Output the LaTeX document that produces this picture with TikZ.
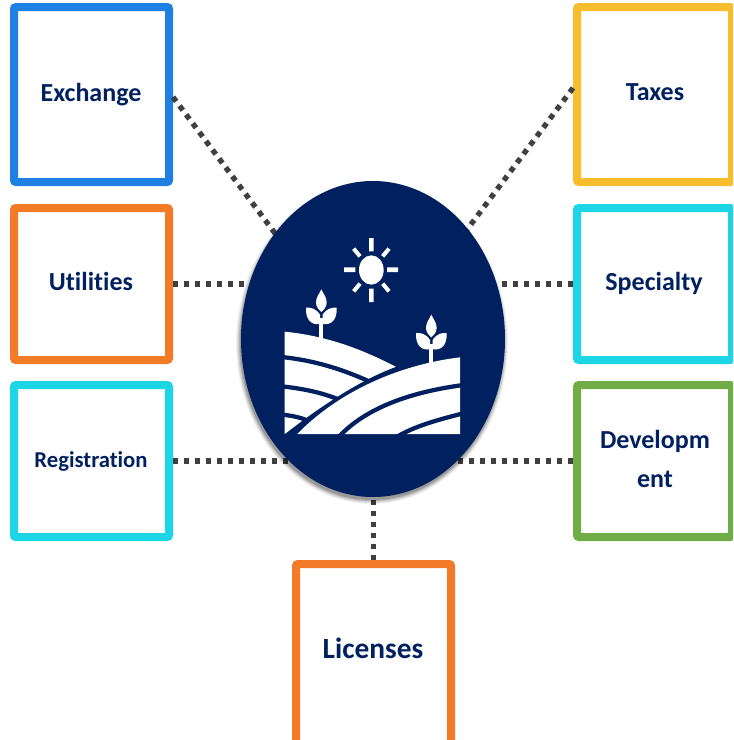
\documentclass[tikz,border=0pt]{standalone}
\usepackage{fontspec}
\usetikzlibrary{shapes.geometric}
\setmainfont{Carlito}[Ligatures=CommonOff]
\definecolor{navy}{HTML}{002060}
\definecolor{cblue}{HTML}{1E80E2}
\definecolor{corange}{HTML}{F37A26}
\definecolor{ccyan}{HTML}{1DD6E5}
\definecolor{cyellow}{HTML}{F8BD2D}
\definecolor{cgreen}{HTML}{70AD47}
\definecolor{dotc}{HTML}{404040}
\tikzset{
  card/.style={draw=#1,line width=6pt,rounded corners=1.5pt,fill=white,anchor=north west,inner sep=0pt,outer sep=3pt},
  label/.style={text=navy,align=center},
  link/.style={draw=dotc,line width=4pt,dash pattern=on 4.1pt off 4.15pt},
}
\begin{document}
\begin{tikzpicture}[x=0.75pt,y=-0.75pt]
\useasboundingbox (0,0) rectangle (733,740);
\clip (0,0) rectangle (733,740);
% free ends of the connectors, hidden under the oval
\coordinate (eNW) at (283,244);
\coordinate (eNE) at (460,239);
\coordinate (eL1) at (280,284);
\coordinate (eR1) at (470,284);
\coordinate (eL2) at (300,461);
\coordinate (eR2) at (440,461);
\coordinate (eB) at (373.5,480);
% cards
\node[card=cblue,minimum width=116.25pt,minimum height=131.25pt] (exchange) at (10,3) {};
\node[card=corange,minimum width=116.25pt,minimum height=114pt] (utilities) at (10,204) {};
\node[card=ccyan,minimum width=116.25pt,minimum height=114pt] (registration) at (10,381) {};
\node[card=cyellow,minimum width=116.25pt,minimum height=131.25pt] (taxes) at (573,3) {};
\node[card=ccyan,minimum width=116.25pt,minimum height=114pt] (specialty) at (573,204) {};
\node[card=cgreen,minimum width=116.25pt,minimum height=114pt] (development) at (573,381) {};
\node[card=corange,minimum width=116.25pt,minimum height=135pt] (licenses) at (292,560) {};
% connectors
\draw[link] ([yshift=-1.9pt]exchange.east) -- (eNW);
\draw[link] ([yshift=4.9pt]taxes.west) -- (eNE);
\draw[link] (utilities.east) -- (eL1);
\draw[link] (specialty.west) -- (eR1);
\draw[link] (registration.east) -- (eL2);
\draw[link] (development.west) -- (eR2);
\draw[link] (licenses.north) -- (eB);
% labels
\node[label,font=\bfseries\fontsize{19.5pt}{22pt}\selectfont] (tExchange) at (91,95) {Exchange};
\node[label,font=\bfseries\fontsize{19.5pt}{22pt}\selectfont] (tUtilities) at (91,281) {Utilities};
\node[label,font=\bfseries\fontsize{17pt}{20pt}\selectfont] (tRegistration) at (91,461) {Registration};
\node[label,font=\bfseries\fontsize{19.5pt}{22pt}\selectfont] (tTaxes) at (655,92) {Taxes};
\node[label,font=\bfseries\fontsize{19.5pt}{22pt}\selectfont] (tSpecialty) at (654,283) {Specialty};
\node[label,font=\bfseries\fontsize{19.5pt}{29pt}\selectfont] (tDevelopment) at (655,459) {Developm\\ent};
\node[label,font=\bfseries\fontsize{22pt}{26pt}\selectfont] (tLicenses) at (373,648) {Licenses};
% shadow
\foreach \g/\o in {4/.05,3/.07,2/.09,1/.12,0/.15}{
  \fill[black,opacity=\o] (372,343) ellipse [x radius=132+\g, y radius=157+\g];
}
% oval
\node[fill=navy,ellipse,minimum width=198pt,minimum height=237pt,inner sep=0pt] (hub) at (373,339) {};
% icon, in coordinates of a 3x crop
\begin{scope}[shift={(240,180)},x=0.25pt,y=-0.25pt]
  \fill[white] (394,270) ellipse [x radius=37,y radius=44];
  \fill[white] (387,174) rectangle (401,214) (387,326) rectangle (401,366)
    (312,262) rectangle (346,276) (441,262) rectangle (474,276);
  \draw[white,line width=3pt] (341,206) -- (360,229);
  \draw[white,line width=3pt] (447,206) -- (428,229);
  \draw[white,line width=3pt] (341,334) -- (360,311);
  \draw[white,line width=3pt] (447,334) -- (428,311);
  % left hill
  \fill[white] (134,455) .. controls (260,468) and (360,505) .. (467,560) -- (467,762) -- (134,762) -- cycle;
  \draw[navy,line width=3.2pt] (125,531) .. controls (220,541) and (300,565) .. (385,603);
  \draw[navy,line width=3.2pt] (125,619) .. controls (180,625) and (240,635) .. (300,660);
  \draw[navy,line width=3.2pt] (125,704) .. controls (150,706) and (185,712) .. (210,725);
  % right hill
  \fill[navy] (130,766) .. controls (240,680) and (360,600) .. (470,560) -- (680,530) -- (680,780) -- (130,780) -- cycle;
  \fill[white] (172,762) .. controls (290,640) and (470,555) .. (660,532) -- (660,762) -- cycle;
  \draw[navy,line width=3.2pt] (295,772) .. controls (380,680) and (520,635) .. (670,615);
  \draw[navy,line width=3.2pt] (468,772) .. controls (520,740) and (590,720) .. (670,700);
  % plants
  \foreach \dx/\dy in {0/0,330/76}{
    \begin{scope}[shift={(\dx,\dy)}]
      \fill[white] (238,415) rectangle (250,480);
      \fill[white] (244,328) .. controls (236,345) and (228,352) .. (228,368) .. controls (228,382) and (238,390) .. (244,396) .. controls (250,390) and (260,382) .. (260,368) .. controls (260,352) and (252,345) .. (244,328) -- cycle;
      \fill[white] (198,383) .. controls (212,382) and (228,385) .. (240,404) -- (240,432) .. controls (215,436) and (196,420) .. (198,383) -- cycle;
      \fill[white] (290,383) .. controls (276,382) and (260,385) .. (248,404) -- (248,432) .. controls (273,436) and (292,420) .. (290,383) -- cycle;
    \end{scope}
  }
\end{scope}
\end{tikzpicture}
\end{document}
